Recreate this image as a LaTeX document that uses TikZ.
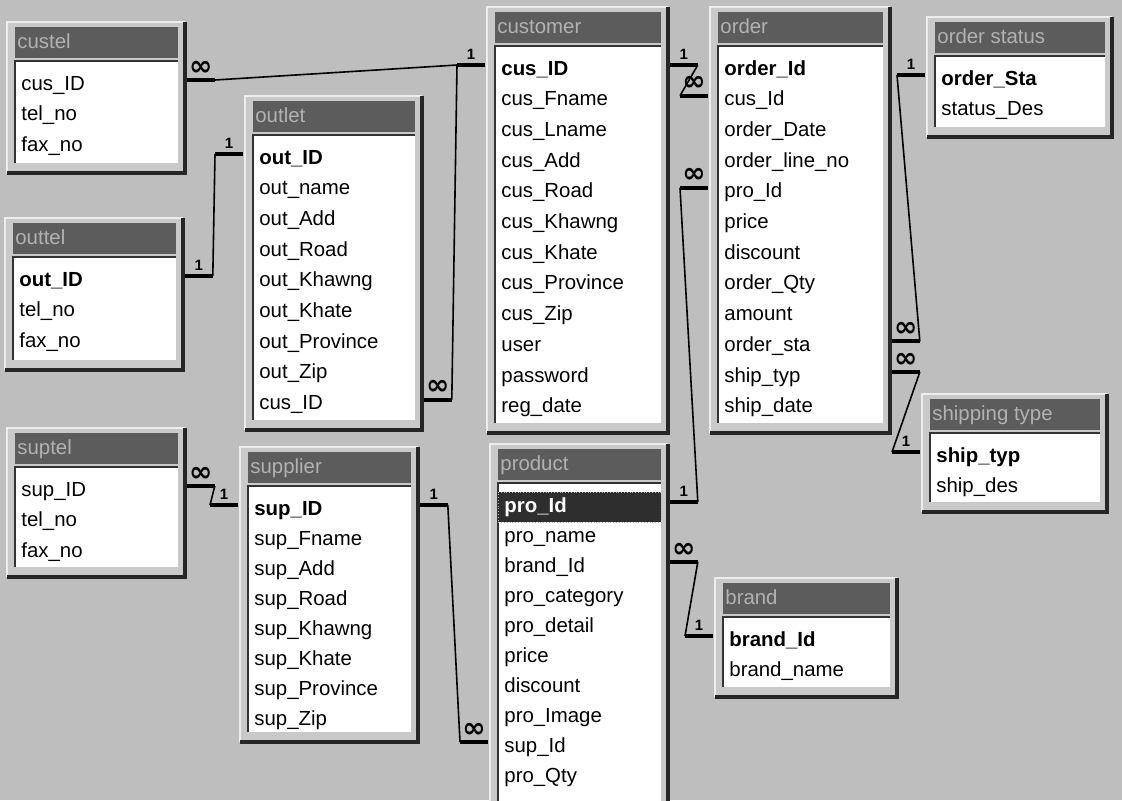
\documentclass[tikz,border=0pt]{standalone}
\usepackage{fontspec}
\setmainfont{Liberation Sans}
\newfontfamily\infsymfont{DejaVu Sans}
\definecolor{deskbg}{HTML}{BEBEBE}
\definecolor{framebg}{HTML}{C9C9C9}
\definecolor{framelit}{HTML}{EDEDED}
\definecolor{titlebg}{HTML}{5C5C5C}
\definecolor{titlefg}{HTML}{B2B2B2}
\definecolor{selbg}{HTML}{2E2E2E}
\tikzset{
  field/.style={anchor=west, font=\fontsize{10.2}{12}\selectfont, inner xsep=3pt, inner ysep=0pt, text height=7.3pt, text depth=2.3pt, align=left},
  keyfield/.style={font=\fontsize{10.2}{12}\selectfont\bfseries},
  selfield/.style={keyfield, fill=selbg, text=white, draw=white!70!black, densely dotted, minimum height=15pt},
  titletext/.style={anchor=west, inner sep=0pt, text height=7.3pt, text depth=2.3pt, text=titlefg, font=\fontsize{10.2}{12}\selectfont},
  framehi/.style={draw=framelit, line width=1pt},
  framelo/.style={draw=black!85, line width=1.6pt},
  sunken/.style={draw=black!80, line width=1.2pt},
  relline/.style={draw=black, line width=0.8pt},
  relbar/.style={draw=black, line width=2pt},
  onelbl/.style={above=2pt, inner sep=0pt, font=\fontsize{7.5}{8}\selectfont\bfseries},
  manylbl/.style={above=1.5pt, inner sep=0pt, font=\infsymfont\fontsize{14}{14}\selectfont\bfseries},
}
% [row step]{id}{x1}{y1}{x2}{y2}{title}{first row style}{fields}
\newcommand{\erTable}[9][30.7]{%
  \fill[framebg] (#3,#4) rectangle (#5,#6);
  \draw[framehi] (#3,#6) -- (#3,#4) -- (#5,#4);
  \draw[framelo] (#3,#6) -- (#5,#6) -- (#5,#4);
  \fill[titlebg] (#3+8,#4+5) rectangle (#5-7,#4+36);
  \node[titletext] (#2-title) at (#3+10,#4+21) {#7};
  \fill[white] (#3+8,#4+39) rectangle (#5-7,#6-10);
  \draw[sunken] (#3+8,#6-10) -- (#3+8,#4+39) -- (#5-7,#4+39);
  \pgfmathsetmacro\rowwd{(#5-#3-15)/2-6}
  \foreach \f [count=\i] in {#9}{
    \ifnum\i=1 \tikzset{firstrow/.style={#8}}\else\tikzset{firstrow/.style={}}\fi
    \node[field, firstrow, text width=\rowwd pt] (#2-\i) at (#3+8,{#4+63+(\i-1)*#1}) {\f};
  }%
}

\begin{document}
\begin{tikzpicture}[x=0.5pt, y=-0.5pt]
\useasboundingbox (0,0) rectangle (1122,800);
\clip (0,0) rectangle (1122,800);
\fill[deskbg] (0,0) rectangle (1122,800);

% tables
\erTable{custel}{7}{22}{185}{173}{custel}{}{cus\_ID, tel\_no, fax\_no}
\erTable{outtel}{5}{218}{183}{370}{outtel}{keyfield}{out\_ID, tel\_no, fax\_no}
\erTable{outlet}{245}{96}{422}{430}{outlet}{keyfield}{out\_ID, out\_name, out\_Add, out\_Road, out\_Khawng, out\_Khate, out\_Province, out\_Zip, cus\_ID}
\erTable{customer}{487}{7}{668}{433}{customer}{keyfield}{cus\_ID, cus\_Fname, cus\_Lname, cus\_Add, cus\_Road, cus\_Khawng, cus\_Khate, cus\_Province, cus\_Zip, user, password, reg\_date}
\erTable{order}{710}{7}{890}{433}{order}{keyfield}{order\_Id, cus\_Id, order\_Date, order\_line\_no, pro\_Id, price, discount, order\_Qty, amount, order\_sta, ship\_typ, ship\_date}
\erTable{ordstat}{927}{17}{1112}{137}{order status}{keyfield}{order\_Sta, status\_Des}
\erTable{shiptype}{922}{394}{1107}{512}{shipping type}{keyfield}{ship\_typ, ship\_des}
\erTable{suptel}{7}{428}{185}{577}{suptel}{}{sup\_ID, tel\_no, fax\_no}
\erTable[30]{supplier}{240}{447}{418}{742}{supplier}{keyfield}{sup\_ID, sup\_Fname, sup\_Add, sup\_Road, sup\_Khawng, sup\_Khate, sup\_Province, sup\_Zip}
\erTable[30]{product}{490}{444}{668}{812}{product}{selfield}{pro\_Id, pro\_name, brand\_Id, pro\_category, pro\_detail, price, discount, pro\_Image, sup\_Id, pro\_Qty}
\erTable{brand}{715}{578}{897}{697}{brand}{keyfield}{brand\_Id, brand\_name}

% relationships
\draw[relbar] ([xshift=4pt,yshift=2.5pt]custel-1.east) -- node[manylbl]{∞} ++(28,0) coordinate (custel-r);
\draw[relbar] ([xshift=-5pt,yshift=2.5pt]customer-1.west) -- node[onelbl]{1} ++(-28,0) coordinate (customer-l);
\draw[relline] (custel-r) -- (customer-l);
\draw[relbar] ([xshift=4pt,yshift=2.5pt]outlet-9.east) -- node[manylbl]{∞} ++(28,0) coordinate (outlet-r);
\draw[relline] (outlet-r) -- (customer-l);
\draw[relbar] ([xshift=-5pt,yshift=2.5pt]outlet-1.west) -- node[onelbl]{1} ++(-28,0) coordinate (outlet-l);
\draw[relbar] ([xshift=4pt,yshift=2.5pt]outtel-1.east) -- node[onelbl]{1} ++(28,0) coordinate (outtel-r);
\draw[relline] (outlet-l) -- (outtel-r);
\draw[relbar] ([xshift=4pt,yshift=2.5pt]customer-1.east) -- node[onelbl]{1} ++(28,0) coordinate (customer-r);
\draw[relbar] ([xshift=-5pt,yshift=2.5pt]order-2.west) -- node[manylbl]{∞} ++(-28,0) coordinate (ordcus-l);
\draw[relline] (customer-r) -- (ordcus-l);
\draw[relbar] ([xshift=-5pt,yshift=2.5pt]order-5.west) -- node[manylbl]{∞} ++(-28,0) coordinate (ordpro-l);
\draw[relbar] ([xshift=4pt,yshift=2.5pt]product-1.east) -- node[onelbl]{1} ++(28,0) coordinate (product-r);
\draw[relline] (ordpro-l) -- (product-r);
\draw[relbar] ([xshift=4pt,yshift=2.5pt]product-3.east) -- node[manylbl]{∞} ++(28,0) coordinate (probrand-r);
\draw[relbar] ([xshift=-5pt,yshift=2.5pt]brand-1.west) -- node[onelbl]{1} ++(-28,0) coordinate (brand-l);
\draw[relline] (probrand-r) -- (brand-l);
\draw[relbar] ([xshift=4pt,yshift=2.5pt]suptel-1.east) -- node[manylbl]{∞} ++(28,0) coordinate (suptel-r);
\draw[relbar] ([xshift=-5pt,yshift=2.5pt]supplier-1.west) -- node[onelbl]{1} ++(-28,0) coordinate (supplier-l);
\draw[relline] (suptel-r) -- (supplier-l);
\draw[relbar] ([xshift=4pt,yshift=2.5pt]supplier-1.east) -- node[onelbl]{1} ++(28,0) coordinate (supplier-r);
\draw[relbar] ([xshift=-5pt,yshift=2.5pt]product-9.west) -- node[manylbl]{∞} ++(-28,0) coordinate (prosup-l);
\draw[relline] (supplier-r) -- (prosup-l);
\draw[relbar] ([xshift=4pt,yshift=2.5pt]order-10.east) -- node[manylbl]{∞} ++(28,0) coordinate (ordsta-r);
\draw[relbar] ([xshift=-5pt,yshift=2.5pt]ordstat-1.west) -- node[onelbl]{1} ++(-28,0) coordinate (ordstat-l);
\draw[relline] (ordsta-r) -- (ordstat-l);
\draw[relbar] ([xshift=4pt,yshift=2.5pt]order-11.east) -- node[manylbl]{∞} ++(28,0) coordinate (ordship-r);
\draw[relbar] ([xshift=-5pt,yshift=2.5pt]shiptype-1.west) -- node[onelbl]{1} ++(-28,0) coordinate (shiptype-l);
\draw[relline] (ordship-r) -- (shiptype-l);
\end{tikzpicture}
\end{document}
